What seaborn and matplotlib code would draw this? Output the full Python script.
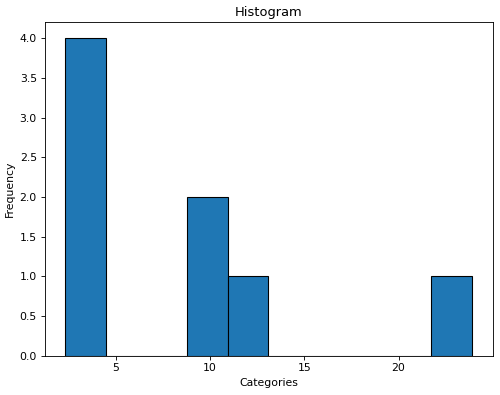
import matplotlib
matplotlib.use("Agg")
import matplotlib.pyplot as plt
import seaborn as sns
import pandas as pd

# values (10 equal bins between min and max)
values = [2.3, 3.0, 3.6, 4.2, 9.2, 10.4, 12.1, 23.9]
n_bins = 10

df = pd.DataFrame({"Categories": values})

# default 6.4in wide figure, shrunk to 500 px
dpi = 500 / 6.4
fig, ax = plt.subplots(figsize=(6.4, 395 / dpi), dpi=dpi)
sns.histplot(data=df, x="Categories", bins=n_bins, color="#1f77b4",
             edgecolor="black", linewidth=1.0, alpha=1.0, ax=ax)
ax.set_title("Histogram")
ax.set_xlabel("Categories")
ax.set_ylabel("Frequency")
ax.set_ylim(0, 4.2)
ax.set_yticks([0, 0.5, 1.0, 1.5, 2.0, 2.5, 3.0, 3.5, 4.0])
ax.set_yticklabels([f"{t:.1f}" for t in ax.get_yticks()])

fig.subplots_adjust(left=0.089, right=0.985, top=0.9435, bottom=0.099)
fig.savefig("out.png", dpi=dpi)
